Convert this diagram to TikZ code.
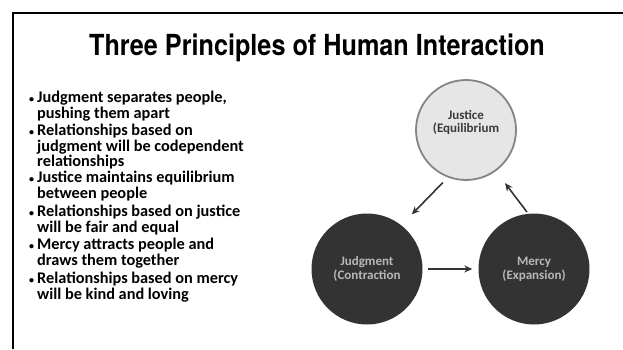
\documentclass[tikz,border=0pt]{standalone}
\usepackage{fontspec}
\setmainfont{Carlito}
\newfontfamily\titlefont[FakeStretch=0.87]{TeX Gyre Heros}
\usetikzlibrary{arrows.meta}
\definecolor{darkfill}{HTML}{333333}
\definecolor{lightfill}{HTML}{E6E6E6}
\definecolor{ringgray}{HTML}{858585}
\definecolor{lighttext}{HTML}{B8B8B8}
\definecolor{justicetext}{HTML}{3A3A3A}
\tikzset{
  frameline/.style={line width=2pt, black},
  bulletitem/.style={anchor=north west, inner sep=0pt,
    font=\fontsize{16.3}{13.2}\selectfont\bfseries},
  lightcircle/.style={circle, fill=lightfill, draw=ringgray, line width=1.8pt,
    minimum size=100pt, inner sep=0pt, align=center,
    font=\fontsize{13}{13.5}\selectfont\bfseries, text=justicetext},
  darkcircle/.style={circle, fill=darkfill, draw=none,
    minimum size=111pt, inner sep=0pt, align=center,
    font=\fontsize{13}{14}\selectfont\bfseries, text=lighttext},
  arr/.style={-{Stealth[length=8pt,width=7pt]}, line width=1.6pt, darkfill},
}
\newcommand{\bul}[1]{\makebox[8pt][l]{\raisebox{0.5pt}{\fontsize{10}{10}\selectfont\textbullet}}\begin{tabular}[t]{@{}l@{}}#1\end{tabular}}
\begin{document}
\begin{tikzpicture}[x=1pt,y=-1pt]
\useasboundingbox (0,0) rectangle (623,349);
\fill[white] (0,0) rectangle (623,349);
% frame (top and left edges)
\coordinate (ftl) at (13,13);
\coordinate (ftr) at (623,13);
\coordinate (fbl) at (13,349);
\draw[frameline] (ftr) -- (ftl) -- (fbl);
% title
\node[font=\titlefont\fontsize{29}{31}\selectfont\bfseries, anchor=base] (title) at (317,55) {Three Principles of Human Interaction};
% bullets
\node[bulletitem] (b1) at (29,91) {\bul{Judgment separates people,\\ pushing them apart}};
\node[bulletitem] (b2) at (29,124) {\bul{Relationships based on\\ judgment will be codependent\\ relationships}};
\node[bulletitem] (b3) at (29,171) {\bul{Justice maintains equilibrium\\ between people}};
\node[bulletitem] (b4) at (29,205) {\bul{Relationships based on justice\\ will be fair and equal}};
\node[bulletitem] (b5) at (29,238) {\bul{Mercy attracts people and\\ draws them together}};
\node[bulletitem] (b6) at (29,272) {\bul{Relationships based on mercy\\ will be kind and loving}};
% diagram
\node[lightcircle] (justice) at (466,130) {Justice\\(Equilibrium\\[4pt]};
\node[darkcircle] (judgment) at (367,269) {Judgment\\(Contraction};
\node[darkcircle] (mercy) at (534,269) {Mercy\\(Expansion)};
\draw[arr, shorten <=7pt, shorten >=15pt] (justice.-111) -- (judgment.52);
\draw[arr, shorten <=2pt, shorten >=15pt] (mercy.96) -- (justice.-54);
\draw[arr, shorten <=5pt, shorten >=6pt] (judgment.east) -- (mercy.west);
\end{tikzpicture}
\end{document}
